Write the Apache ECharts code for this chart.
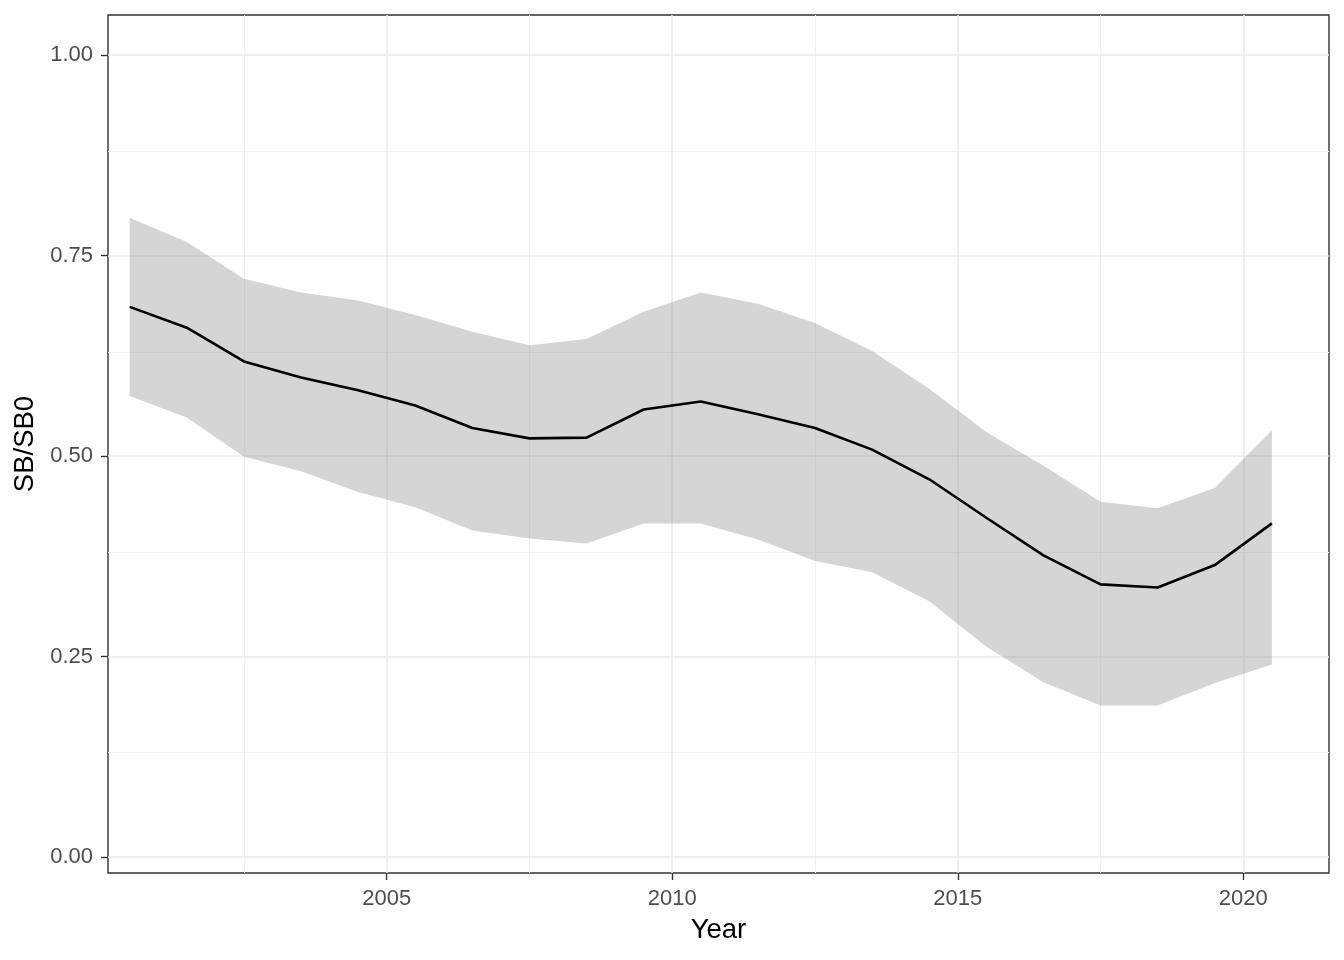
<!DOCTYPE html>
<html style="height: 100%">
<head>
    <meta charset="UTF-8">
    <title>SB/SB0 by Year</title>
    <script src="https://cdn.jsdelivr.net/npm/echarts@6.0.0/dist/echarts.min.js"></script>
    <style>
        html, body { margin: 0; padding: 0; height: 100%; background: #ffffff; }
        #chart { width: 1344px; height: 960px; }
    </style>
</head>
<body>
    <div id="chart"></div>

    <script>
        // data
        var years = [2000.5, 2001.5, 2002.5, 2003.5, 2004.5, 2005.5, 2006.5, 2007.5, 2008.5, 2009.5,
                     2010.5, 2011.5, 2012.5, 2013.5, 2014.5, 2015.5, 2016.5, 2017.5, 2018.5, 2019.5, 2020.5];
        var median = [0.686, 0.660, 0.618, 0.598, 0.582, 0.563, 0.535, 0.522, 0.523, 0.558,
                      0.568, 0.552, 0.535, 0.508, 0.471, 0.423, 0.376, 0.340, 0.336, 0.364, 0.416];
        var upper = [0.797, 0.767, 0.721, 0.704, 0.694, 0.676, 0.655, 0.638, 0.646, 0.680,
                     0.704, 0.690, 0.666, 0.631, 0.584, 0.530, 0.488, 0.443, 0.435, 0.460, 0.532];
        var lower = [0.575, 0.548, 0.499, 0.481, 0.455, 0.436, 0.407, 0.397, 0.391, 0.416,
                     0.416, 0.396, 0.369, 0.355, 0.319, 0.262, 0.218, 0.189, 0.189, 0.217, 0.240];

        // tick labels and grid breaks
        var xBreaks = [2005, 2010, 2015, 2020];
        var xMinorBreaks = [2002.5, 2007.5, 2012.5, 2017.5];
        var yBreaks = [0, 0.25, 0.5, 0.75, 1];
        var yMinorBreaks = [0.125, 0.375, 0.625, 0.875];

        var font = 'Arial, "Liberation Sans", sans-serif';

        function pairs(xs, ys) {
            return xs.map(function (x, i) { return [x, ys[i]]; });
        }

        // grid lines in the ggplot theme_bw look
        var minorStyle = { color: '#f2f2f2', width: 1, type: 'solid' };
        var majorStyle = { color: '#ebebeb', width: 1.6, type: 'solid' };
        var gridLines = [];
        xMinorBreaks.forEach(function (v) { gridLines.push({ xAxis: v, lineStyle: minorStyle }); });
        yMinorBreaks.forEach(function (v) { gridLines.push({ yAxis: v, lineStyle: minorStyle }); });
        xBreaks.forEach(function (v) { gridLines.push({ xAxis: v, lineStyle: majorStyle }); });
        yBreaks.forEach(function (v) { gridLines.push({ yAxis: v, lineStyle: majorStyle }); });

        // ribbon polygon: upper edge forward, lower edge backward
        function renderRibbon(params, api) {
            var pts = [];
            for (var i = 0; i < years.length; i++) {
                pts.push(api.coord([years[i], upper[i]]));
            }
            for (var j = years.length - 1; j >= 0; j--) {
                pts.push(api.coord([years[j], lower[j]]));
            }
            return {
                type: 'polygon',
                shape: { points: pts },
                style: { fill: 'rgba(128,128,128,0.33)' }
            };
        }

        var option = {
            animation: false,
            backgroundColor: '#ffffff',
            grid: {
                left: 108, right: 15, top: 15, bottom: 87,
                show: true,
                borderColor: '#333333',
                borderWidth: 1.4,
                backgroundColor: 'transparent'
            },
            xAxis: {
                type: 'value',
                min: 2000.12,
                max: 2021.5,
                name: 'Year',
                nameLocation: 'middle',
                nameGap: 43,
                nameTextStyle: { color: '#000000', fontSize: 27.5, fontFamily: font },
                axisLine: { show: false, onZero: false },
                splitLine: { show: false },
                axisTick: {
                    show: true, length: 7, customValues: xBreaks,
                    lineStyle: { color: '#333333', width: 1.4 }
                },
                axisLabel: {
                    customValues: xBreaks, margin: 15,
                    color: '#4d4d4d', fontSize: 22, fontFamily: font,
                    formatter: function (v) { return String(v); }
                }
            },
            yAxis: {
                type: 'value',
                min: -0.02,
                max: 1.05,
                name: 'SB/SB0',
                nameLocation: 'middle',
                nameGap: 67,
                nameTextStyle: { color: '#000000', fontSize: 27.5, fontFamily: font },
                axisLine: { show: false, onZero: false },
                splitLine: { show: false },
                axisTick: {
                    show: true, length: 7, customValues: yBreaks,
                    lineStyle: { color: '#333333', width: 1.4 }
                },
                axisLabel: {
                    customValues: yBreaks, margin: 15,
                    color: '#4d4d4d', fontSize: 22, fontFamily: font,
                    formatter: function (v) { return v.toFixed(2); }
                }
            },
            series: [
                {
                    // invisible carrier for the panel grid lines
                    type: 'line',
                    z: 1,
                    silent: true,
                    symbol: 'none',
                    lineStyle: { opacity: 0 },
                    data: pairs(years, median),
                    markLine: {
                        z: 1,
                        silent: true,
                        symbol: 'none',
                        label: { show: false },
                        emphasis: { disabled: true },
                        animation: false,
                        data: gridLines
                    }
                },
                {
                    type: 'custom',
                    z: 2,
                    silent: true,
                    renderItem: renderRibbon,
                    data: [0]
                },
                {
                    type: 'line',
                    z: 3,
                    symbol: 'none',
                    lineStyle: { color: '#000000', width: 2.6 },
                    data: pairs(years, median)
                }
            ]
        };

        var chart = echarts.init(document.getElementById('chart'));
        chart.setOption(option);
    </script>
</body>
</html>
